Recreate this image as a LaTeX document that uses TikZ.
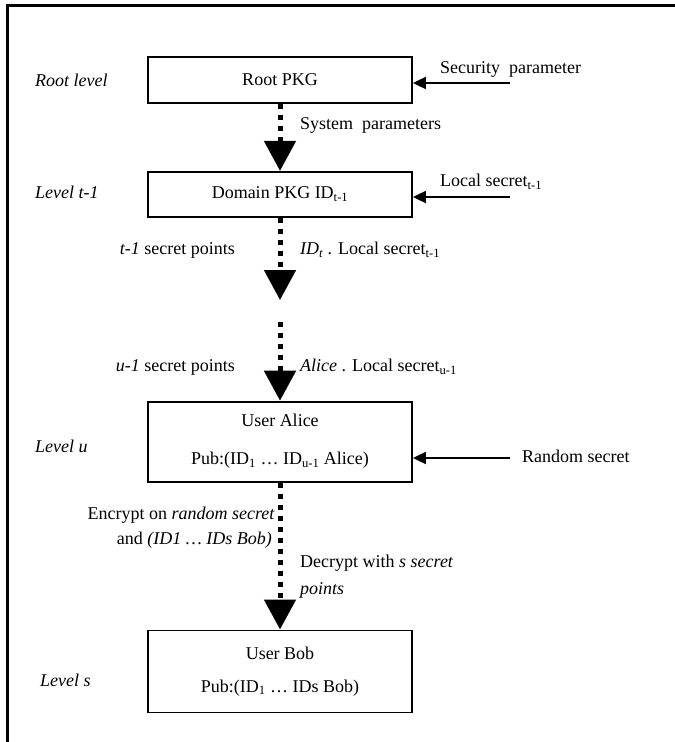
\documentclass[tikz,border=0pt]{standalone}
\usepackage{fontspec}
\setmainfont{Liberation Serif}
\usetikzlibrary{positioning,arrows.meta}

\begin{document}
\begin{tikzpicture}[x=1pt,y=1pt,
		font=\fontsize{18}{21}\selectfont,
		keybox/.style={ % 各级 PKG / 用户的方框
				draw, line width=1.8pt, minimum width=264pt,
				inner sep=0pt, align=center
			},
		note/.style={inner sep=0pt},
		levelnote/.style={note, anchor=west, font=\fontsize{18}{21}\selectfont\itshape},
		secretarrow/.style={line width=1.8pt, -{Triangle[length=13pt,width=12pt]}},
		keyflow/.style={ % 方点虚线 + 大三角箭头
				line width=5pt, dash pattern=on 5pt off 6pt,
				-{Triangle[length=30pt,width=31pt]}
			}
	]
	\useasboundingbox (0,0) rectangle (675,-742);
	% 外框 (只有上边和左边)
	\draw[line width=3pt] (7,-742) -- (7,-5) -- (675,-5);

	% fig key boxes
	\node[keybox, minimum height=46pt] (root) at (280,-80) {Root PKG};
	\node[keybox, minimum height=45pt, below=67pt of root] (domain)
	{Domain PKG ID\textsubscript{t-1}};
	\node[keybox, minimum height=80pt, below=183pt of domain] (alice)
	{User Alice\\[17pt]Pub:(ID\textsubscript{1} \dots\ ID\textsubscript{u-1} Alice)};
	\node[keybox, minimum height=82pt, below=147pt of alice] (bob)
	{User Bob\\[12pt]Pub:(ID\textsubscript{1} \dots\ IDs Bob)};

	% level labels
	\node[levelnote] (lvroot) at (35,-80) {Root level};
	\node[levelnote] (lvdomain) at (35,-192) {Level t-1};
	\node[levelnote] (lvalice) at (35,-446) {Level u};
	\node[levelnote] (lvbob) at (40,-680) {Level s};

	% 右侧输入的秘密
	\coordinate (secpar) at (510,-83);
	\coordinate (locsec) at (510,-197);
	\coordinate (ransec) at (510,-458);
	\node[note, anchor=west] (secparlab) at (440,-69) {Security\ \ parameter};
	\node[note, anchor=west] (locseclab) at (440,-182) {Local secret\textsubscript{t-1}};
	\node[note, anchor=west] (ranseclab) at (522,-456) {Random secret};
	\draw[secretarrow] (secpar) -- (secpar -| root.east);
	\draw[secretarrow] (locsec) -- (locsec -| domain.east);
	\draw[secretarrow] (ransec) -- (ransec -| alice.east);

	% 中间的方点箭头
	\coordinate (gapup) at (280,-300);
	\coordinate (gapdown) at (280,-322);
	\draw[keyflow] (root) -- (domain);
	\draw[keyflow] (domain) -- (gapup);
	\draw[keyflow] (gapdown) -- (alice);
	\draw[keyflow] (alice) -- (bob);

	% 箭头旁的说明
	\node[note, anchor=west] (syspar) at (300,-125) {System\ \ parameters};
	\node[note, anchor=east] (tpoints) at (235,-250) {\textit{t-1} secret points};
	\node[note, anchor=west] (tsecret) at (300,-250)
	{\textit{ID\textsubscript{t}} . Local secret\textsubscript{t-1}};
	\node[note, anchor=east] (upoints) at (235,-367) {\textit{u-1} secret points};
	\node[note, anchor=west] (usecret) at (300,-367)
	{\textit{Alice} . Local secret\textsubscript{u-1}};
	\node[note, anchor=east] (encrypt) at (275,-515) {Encrypt on \textit{random secret}};
	\node[note, anchor=east] (encids) at (272,-540) {and \textit{(ID1 \dots\ IDs Bob)}};
	\node[note, anchor=west] (decrypt) at (300,-563) {Decrypt with \textit{s secret}};
	\node[note, anchor=west] (decpoints) at (300,-590) {\textit{points}};
\end{tikzpicture}
\end{document}
